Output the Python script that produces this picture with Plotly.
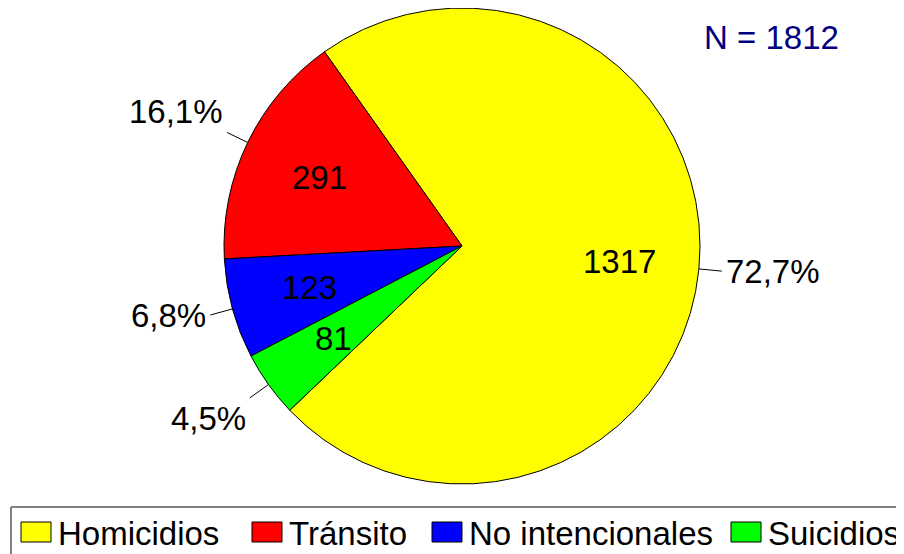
import math
import plotly.graph_objects as go

# ---- data ----
labels = ["Homicidios", "Tránsito", "No intencionales", "Suicidios"]
values = [1317, 291, 123, 81]
colors = ["#FFFF00", "#FF0000", "#0000FF", "#00FF00"]

# ---- layout geometry (pixels, in window coordinates) ----
OFF = 8                 # page body margin
W, H = 904 - OFF, 554 - OFF
cx, cy, R = 462, 246, 238
rotation = -35.3  # boundary between first and second slice (deg, clockwise from 12 o'clock)
FONT = "Liberation Sans, Arial, sans-serif"
FS = 33

def px2paper(x, y):
    return (x - OFF) / W, 1 - (y - OFF) / H

dx0, dy0 = px2paper(cx - R, cy + R)
dx1, dy1 = px2paper(cx + R, cy - R)
fig = go.Figure(go.Pie(
    labels=labels, values=values, sort=False, direction="counterclockwise",
    rotation=rotation,
    marker=dict(colors=colors, line=dict(color="black", width=1)),
    textinfo="none", showlegend=False,
    hoverinfo="label+value+percent",
    domain=dict(x=[max(dx0, 0), min(dx1, 1)], y=[max(dy0, 0), min(dy1, 1)]),
))

total = sum(values)
annotations = []
shapes = []

cum = 0
a0 = values[0] / total * 360
for i, v in enumerate(values):
    cum += v
    mid = rotation + a0 - (cum - v / 2) / total * 360
    s, c = math.sin(math.radians(mid)), -math.cos(math.radians(mid))
    # value label inside
    x, y = px2paper(cx + 0.665 * R * s, cy + 0.665 * R * c)
    annotations.append(dict(x=x, y=y, xref="paper", yref="paper", text=str(v),
                            showarrow=False, xanchor="center", yanchor="middle",
                            font=dict(family=FONT, size=FS, color="black")))
    # leader line
    x0, y0 = px2paper(cx + R * s, cy + R * c)
    x1, y1 = px2paper(cx + (R + 23) * s, cy + (R + 23) * c)
    shapes.append(dict(type="line", xref="paper", yref="paper", x0=x0, y0=y0, x1=x1, y1=y1,
                       line=dict(color="black", width=1)))
    # percentage label outside
    pct = f"{v / total * 100:.1f}".replace(".", ",") + "%"
    tx, ty = px2paper(cx + (R + 25) * s, cy + (R + 23) * c)
    xanchor = "left" if s > 0 else "right"
    if c < -0.35:
        yanchor = "bottom"
    elif c > 0.45:
        yanchor = "top"
    else:
        yanchor = "middle"
    annotations.append(dict(x=tx, y=ty, xref="paper", yref="paper", text=pct,
                            showarrow=False, xanchor=xanchor, yanchor=yanchor,
                            font=dict(family=FONT, size=FS, color="black")))

# N label
nx, ny = px2paper(702, 37)
annotations.append(dict(x=nx, y=ny, xref="paper", yref="paper", text=f"N = {total}",
                        showarrow=False, xanchor="left", yanchor="middle",
                        font=dict(family=FONT, size=FS, color="#000080")))

# ---- manual legend (box: top and left edges visible) ----
lx0, ly0 = px2paper(11, 507)
lx1, ly1 = px2paper(904, 554)
shapes.append(dict(type="line", xref="paper", yref="paper", x0=lx0, y0=ly0, x1=lx1, y1=ly0,
                   line=dict(color="#808080", width=2)))
shapes.append(dict(type="line", xref="paper", yref="paper", x0=lx0, y0=ly0, x1=lx0, y1=ly1,
                   line=dict(color="#808080", width=2)))
legend_sq_x = [21, 252, 432, 731]
sq_w, sq_top, sq_bot = 30, 522, 542
for lab, col, lx in zip(labels, colors, legend_sq_x):
    sx0, sy0 = px2paper(lx, sq_top)
    sx1, sy1 = px2paper(lx + sq_w, sq_bot)
    shapes.append(dict(type="rect", xref="paper", yref="paper", x0=sx0, y0=sy1, x1=sx1, y1=sy0,
                       line=dict(color="black", width=1), fillcolor=col))
    tx, ty = px2paper(lx + sq_w + 5, 533)
    annotations.append(dict(x=tx, y=ty, xref="paper", yref="paper", text=lab,
                            showarrow=False, xanchor="left", yanchor="middle",
                            font=dict(family=FONT, size=33, color="black")))

fig.update_layout(
    width=W, height=H,
    margin=dict(l=0, r=0, t=0, b=0),
    paper_bgcolor="white", plot_bgcolor="white",
    annotations=annotations, shapes=shapes,
    showlegend=False,
)

fig.write_html("out.html")
